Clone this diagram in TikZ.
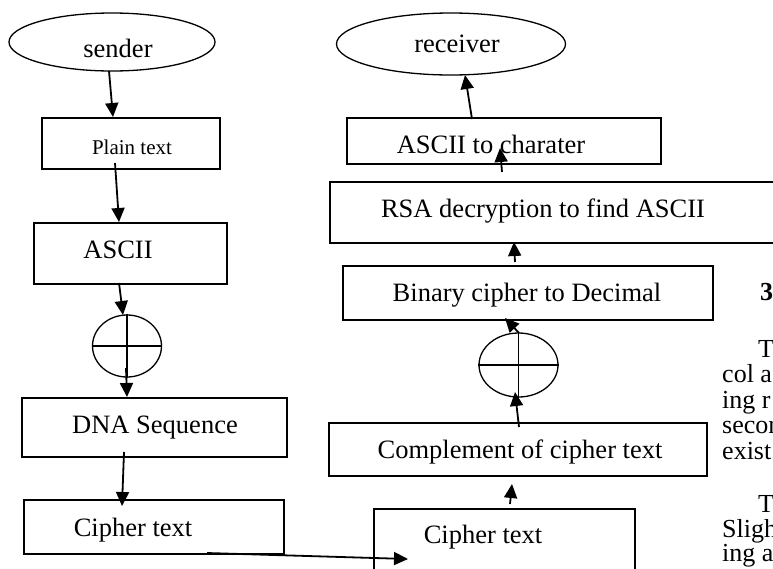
\documentclass[tikz,border=0pt]{standalone}
\usepackage{fontspec}
\setmainfont{Liberation Serif}
\usetikzlibrary{shapes.geometric,arrows.meta}

\begin{document}
\begin{tikzpicture}[x=1pt,y=-1pt,
  box/.style={draw, line width=1.7pt, inner sep=0pt, anchor=north west},
  oval/.style={draw, ellipse, line width=1.3pt, inner sep=0pt},
  lbl/.style={anchor=base, inner sep=0pt, font=\fontsize{26.5}{30}\selectfont},
  body/.style={anchor=base west, inner sep=0pt, font=\fontsize{26}{28}\selectfont},
  arr/.style={line width=1.8pt, -{Triangle[length=14pt,width=13pt]}},
  cross/.style={line width=1.3pt}]

\useasboundingbox (0,0) rectangle (773,568);
\clip (0,0) rectangle (773,568);

% ---------- sender column ----------
\node[oval, minimum width=206pt, minimum height=58pt] (sender) at (112,42) {};
\node[lbl] (sendert) at (118,57) {sender};

\node[box, minimum width=178pt, minimum height=51pt] (plain) at (41,117) {};
\node[lbl, font=\fontsize{21}{25}\selectfont] (plaint) at (132,154) {Plain text};

\node[box, minimum width=193pt, minimum height=61pt] (ascii) at (33,222) {};
\node[lbl] (asciit) at (118,258) {ASCII};

\node[oval, minimum width=69pt, minimum height=62pt] (xora) at (127,346) {};
\draw[cross] (xora.north) -- (xora.south);
\draw[cross] (xora.west) -- (xora.east);

\node[box, minimum width=265pt, minimum height=59pt] (dna) at (21,397) {};
\node[lbl] (dnat) at (155,433) {DNA Sequence};

\node[box, minimum width=260pt, minimum height=54pt] (cipherl) at (23,499) {};
\node[lbl] (cipherlt) at (133,536) {Cipher text};

% ---------- receiver column ----------
\node[box, minimum width=261pt, minimum height=80pt] (cipherr) at (373,508) {};
\node[lbl] (cipherrt) at (483,543) {Cipher text};

\node[box, minimum width=378pt, minimum height=53pt] (comp) at (328,422) {};
\node[lbl] (compt) at (520,458) {Complement of cipher text};

\node[oval, minimum width=79pt, minimum height=64pt] (xorb) at (518.5,365) {};
\draw[cross] (xorb.north) -- (xorb.south);
\draw[cross] (xorb.west) -- (xorb.east);

\node[box, minimum width=370pt, minimum height=54pt] (binary) at (342,265) {};
\node[lbl] (binaryt) at (527,301) {Binary cipher to Decimal};

\node[box, minimum width=480pt, minimum height=61pt] (rsa) at (329,181) {};
\node[lbl] (rsat) at (543,217) {RSA decryption to find ASCII};

\node[box, minimum width=314pt, minimum height=46pt] (atoc) at (346,117) {};
\node[lbl] (atoct) at (491,153) {ASCII to charater};

\node[oval, minimum width=229pt, minimum height=62pt] (receiver) at (451,44) {};
\node[lbl] (receivert) at (457,52) {receiver};

% ---------- arrow end points ----------
\coordinate (a1s) at (109,71);   \coordinate (a1e) at (113,117);
\coordinate (a2s) at (115,163);  \coordinate (a2e) at (119,222);
\coordinate (a3s) at (119,283);  \coordinate (a3e) at (123,315);
\coordinate (a4s) at (126,368);  \coordinate (a4e) at (127,397);
\coordinate (a5s) at (124,452);  \coordinate (a5e) at (122,506);
\coordinate (a6s) at (207,553);  \coordinate (a6e) at (408,559);
\coordinate (a7s) at (510,504);  \coordinate (a7e) at (512,484);
\coordinate (a8s) at (519,427);  \coordinate (a8e) at (515,392);
\coordinate (a9s) at (519,333);  \coordinate (a9e) at (505,318);
\coordinate (a10s) at (515,262); \coordinate (a10e) at (514,242);
\coordinate (a11s) at (502,172); \coordinate (a11e) at (500,148);
\coordinate (a12s) at (472,119); \coordinate (a12e) at (465,75);

\foreach \i in {1,...,12} \draw[arr] (a\i s) -- (a\i e);

% ---------- neighbouring text column ----------
\node[body, font=\fontsize{26}{28}\selectfont\bfseries] (h3) at (760,300) {3};
\node[body] (p1a) at (758,357) {T};
\node[body] (p1b) at (722,382.5) {col a};
\node[body] (p1c) at (722,408) {ing r};
\node[body] (p1d) at (722,433.5) {secon};
\node[body] (p1e) at (722,459) {exist};
\node[body] (p2a) at (758,512) {T};
\node[body] (p2b) at (722,537) {Sligh};
\node[body] (p2c) at (722,561) {ing a};
\end{tikzpicture}
\end{document}
